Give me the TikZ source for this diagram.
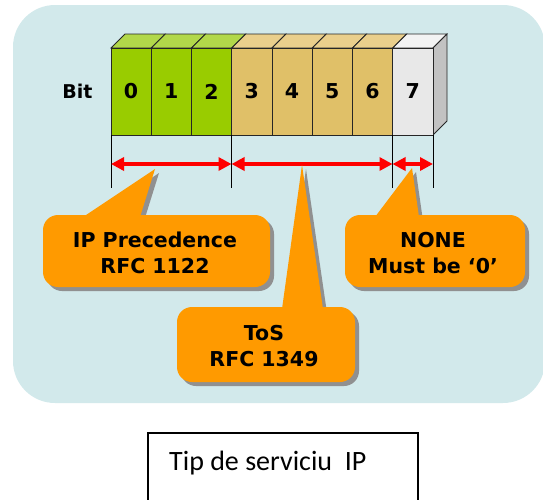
\documentclass[tikz,border=0pt]{standalone}
\usepackage{fontspec}
\setmainfont{DejaVu Sans}
\newfontfamily\calibfont{Carlito}
\usetikzlibrary{arrows.meta}
\definecolor{bgc}{HTML}{D2E9EB}
\definecolor{grn}{HTML}{99CC00}
\definecolor{grntop}{HTML}{B2D84A}
\definecolor{tanc}{HTML}{E0C068}
\definecolor{tantop}{HTML}{EACF8C}
\definecolor{whtc}{HTML}{E8E8E8}
\definecolor{whttop}{HTML}{F3F3F3}
\definecolor{sidec}{HTML}{C2C2C2}
\definecolor{orgc}{HTML}{FF9A00}
\definecolor{shdc}{HTML}{909090}
\definecolor{redc}{HTML}{FF0000}
\begin{document}
\begin{tikzpicture}[x=1pt,y=-1pt,
  cell/.style={draw=black!85, line width=0.8pt, minimum width=40.25pt, minimum height=87pt,
    inner sep=0pt, outer sep=0pt, font=\bfseries\fontsize{20.5}{20.5}\selectfont},
  topface/.style={draw=black!85, line width=0.8pt},
  tick/.style={draw=black, line width=0.9pt},
  redarr/.style={draw=redc, line width=4pt, {Triangle[length=13pt,width=13pt]}-{Triangle[length=13pt,width=13pt]}},
  ctext/.style={anchor=base, inner sep=0pt, font=\bfseries\fontsize{20.5}{20.5}\selectfont},
]
\useasboundingbox (0,0) rectangle (543,499);
% background panel
\fill[bgc, rounded corners=42pt] (13,5) rectangle (545,403);

% top faces
\foreach \i/\c in {0/grntop,1/grntop,2/grntop,3/tantop,4/tantop,5/tantop,6/tantop,7/whttop}{
  \pgfmathsetmacro{\xa}{111+40.25*\i}
  \pgfmathsetmacro{\xb}{111+40.25*(\i+1)}
  \filldraw[topface, fill=\c] (\xa,48) -- (\xa+14,34) -- (\xb+14,34) -- (\xb,48) -- cycle;
}
% right side face
\filldraw[topface, fill=sidec] (433,48) -- (447,34) -- (447,121) -- (433,135) -- cycle;

% cells
\node[cell, fill=grn]  (b0) at (131.125,91.5) {0};
\node[cell, fill=grn]  (b1) at (171.375,91.5) {1};
\node[cell, fill=grn]  (b2) at (211.625,91.5) {2};
\node[cell, fill=tanc] (b3) at (251.875,91.5) {3};
\node[cell, fill=tanc] (b4) at (292.125,91.5) {4};
\node[cell, fill=tanc] (b5) at (332.375,91.5) {5};
\node[cell, fill=tanc] (b6) at (372.625,91.5) {6};
\node[cell, fill=whtc] (b7) at (412.875,91.5) {7};

\node[font=\bfseries\fontsize{19}{19}\selectfont, inner sep=0pt] (bit) at (77.5,91) {Bit};

% ticks
\draw[tick] (b0.south west) -- ++(0,53);
\draw[tick] (b3.south west) -- ++(0,53);
\draw[tick] (b7.south west) -- ++(0,53);
\draw[tick] (b7.south east) -- ++(0,53);

% arrows
\coordinate (p0) at (111,164);
\coordinate (p1) at (231.5,164);
\coordinate (p2) at (392.5,164);
\coordinate (p3) at (433,164);
\draw[redarr] (p0) -- (p1);
\draw[redarr] (p1) -- (p2);
\draw[redarr] (p2) -- (p3);

% callouts (shadow then body)
\foreach \d/\c in {4/shdc,0/orgc}{
  \begin{scope}[shift={(\d,\d)}]
    % IP precedence
    \fill[\c, rounded corners=15pt] (43,215) rectangle (270,287);
    \fill[\c] (83,217) -- (155,169) -- (140,217) -- cycle;
    % ToS
    \fill[\c, rounded corners=15pt] (177,307) rectangle (355,382);
    \fill[\c] (282,309) -- (302,165) -- (323,309) -- cycle;
    % NONE
    \fill[\c, rounded corners=15pt] (345,215) rectangle (525,287);
    \fill[\c] (375,217) -- (412,168) -- (419,217) -- cycle;
  \end{scope}
}

\node[ctext] (ipa) at (155,247) {IP Precedence};
\node[ctext] (ipb) at (155,273) {RFC 1122};
\node[ctext] (tosa) at (264,340) {ToS};
\node[ctext] (tosb) at (264,366) {RFC 1349};
\node[ctext] (nna) at (433,247) {NONE};
\node[ctext] (nnb) at (433,273) {Must be ‘0’};

% caption box
\draw[line width=1.5pt] (148,505) -- (148,433) -- (418,433) -- (418,505);
\node[anchor=base west, inner sep=0pt, font=\calibfont\fontsize{28}{28}\selectfont] (cap) at (169,470) {Tip de serviciu\ \ IP};
\end{tikzpicture}
\end{document}
